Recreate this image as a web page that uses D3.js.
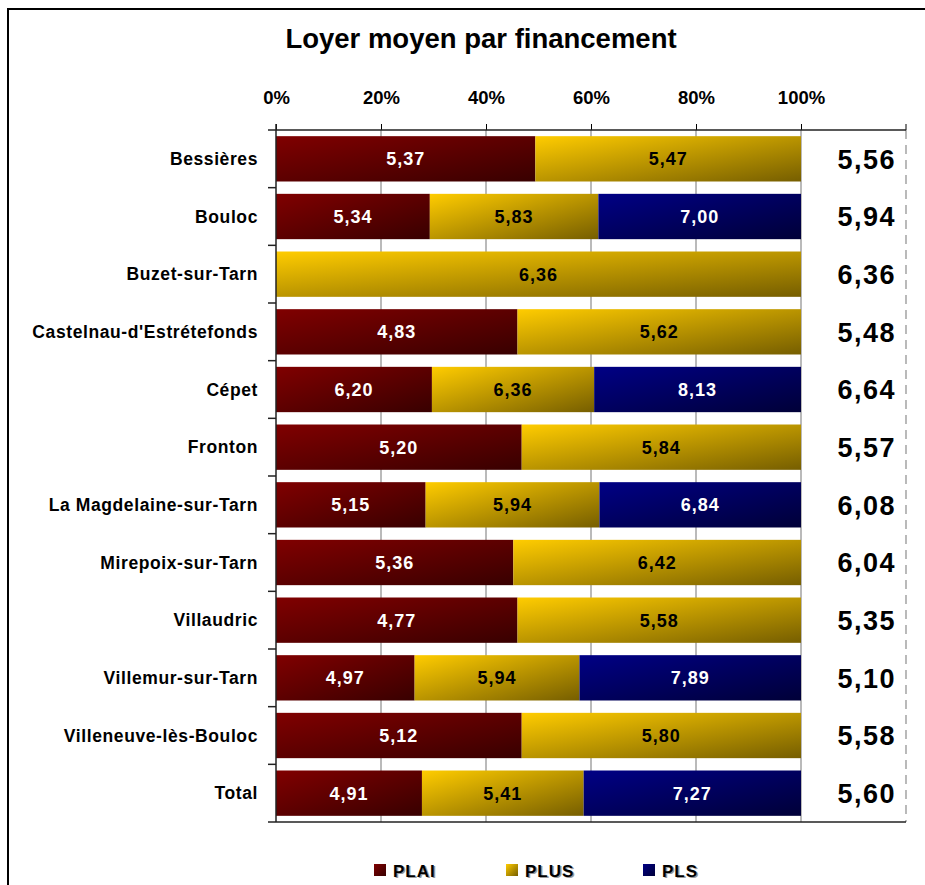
<!DOCTYPE html>
<html>
<head>
<meta charset="utf-8">
<script src="https://cdn.jsdelivr.net/npm/d3@7"></script>
<style>
  html, body { margin: 0; padding: 0; background: #fff; }
  svg { display: block; }
  text { font-family: "Liberation Sans", Arial, sans-serif; font-weight: bold; }
</style>
</head>
<body>
<svg id="chart" width="925" height="885"></svg>
<script>
// Communes (rows, top to bottom)
const communes = [
  "Bessières", "Bouloc", "Buzet-sur-Tarn", "Castelnau-d'Estrétefonds", "Cépet",
  "Fronton", "La Magdelaine-sur-Tarn", "Mirepoix-sur-Tarn", "Villaudric",
  "Villemur-sur-Tarn", "Villeneuve-lès-Bouloc", "Total"
];

// Share of each financing type (bar lengths, sum to 1 per commune)
const partPLAI = [0.494, 0.293, 0, 0.460, 0.297, 0.468, 0.285, 0.452, 0.460, 0.264, 0.468, 0.278];
const partPLUS = [0.506, 0.321, 1, 0.540, 0.309, 0.532, 0.331, 0.548, 0.540, 0.314, 0.532, 0.308];
const partPLS  = [0,     0.386, 0, 0,     0.394, 0,     0.384, 0,     0,     0.422, 0,     0.414];

// Average rent per financing type (€/m²), printed inside the segments
const loyerPLAI = [5.37, 5.34, null, 4.83, 6.20, 5.20, 5.15, 5.36, 4.77, 4.97, 5.12, 4.91];
const loyerPLUS = [5.47, 5.83, 6.36, 5.62, 6.36, 5.84, 5.94, 6.42, 5.58, 5.94, 5.80, 5.41];
const loyerPLS  = [null, 7.00, null, null, 8.13, null, 6.84, null, null, 7.89, null, 7.27];

// Overall average rent per commune (right-hand column)
const loyerMoyen = [5.56, 5.94, 6.36, 5.48, 6.64, 5.57, 6.08, 6.04, 5.35, 5.10, 5.58, 5.60];

const financements = ["PLAI", "PLUS", "PLS"];
const tickValues = [0, 0.2, 0.4, 0.6, 0.8, 1];
const gridValues = [0.2, 0.4, 0.6, 0.8, 1];

// Colours: base (top-left) and shaded (bottom-right) for each financing type
const couleurs = {
  PLAI: ["#800000", "#380000"],
  PLUS: ["#FFCC00", "#765E00"],
  PLS:  ["#000085", "#000038"]
};
const texteCouleur = { PLAI: "#fff", PLUS: "#000", PLS: "#fff" };

// Build the table used by d3.stack
const parts = { PLAI: partPLAI, PLUS: partPLUS, PLS: partPLS };
const loyers = { PLAI: loyerPLAI, PLUS: loyerPLUS, PLS: loyerPLS };
const table = communes.map((c, i) => {
  const row = { commune: c, i };
  financements.forEach(f => { row[f] = parts[f][i]; });
  return row;
});

const fr = d3.formatLocale({ decimal: ",", thousands: " ", grouping: [3], currency: ["", " €"] });
const fmt = fr.format(".2f");
const pct = fr.format(".0%");

const svg = d3.select("#chart");

// Outer frame
svg.append("rect")
  .attr("x", 8).attr("y", 9)
  .attr("width", 1000).attr("height", 1000)
  .attr("fill", "none").attr("stroke", "#000").attr("stroke-width", 2);

// Gradients
const defs = svg.append("defs");
financements.forEach(f => {
  const g = defs.append("linearGradient")
    .attr("id", "grad-" + f)
    .attr("x1", 0).attr("y1", 0).attr("x2", 1).attr("y2", 1);
  g.append("stop").attr("offset", "0%").attr("stop-color", couleurs[f][0]);
  g.append("stop").attr("offset", "100%").attr("stop-color", couleurs[f][1]);
});

// Scales
const yTop = 130, yBottom = 822;
const x = d3.scaleLinear().domain([0, 1.2]).range([276, 906]);
const y = d3.scaleBand().domain(communes).range([yTop, yBottom])
  .paddingInner(0.214).paddingOuter(0.107);

// Title
svg.append("text")
  .attr("x", 481).attr("y", 48)
  .attr("text-anchor", "middle")
  .attr("font-size", 27.5)
  .text("Loyer moyen par financement");

// Vertical gridlines
svg.append("g").selectAll("line")
  .data(gridValues)
  .join("line")
  .attr("x1", d => x(d)).attr("x2", d => x(d))
  .attr("y1", yTop).attr("y2", yBottom)
  .attr("stroke", "#8c8c8c").attr("stroke-width", 1.2);

// Dashed right border of the plot
svg.append("line")
  .attr("x1", x(1.2)).attr("x2", x(1.2))
  .attr("y1", yTop).attr("y2", yBottom)
  .attr("stroke", "#8c8c8c").attr("stroke-width", 1.2)
  .attr("stroke-dasharray", "9,6");

// Stacked bars
const series = d3.stack().keys(financements)(table);
const layers = svg.append("g").selectAll("g")
  .data(series)
  .join("g")
  .attr("fill", s => "url(#grad-" + s.key + ")");

layers.selectAll("rect")
  .data(s => s.filter(d => d[1] - d[0] > 0))
  .join("rect")
  .attr("x", d => x(d[0]))
  .attr("y", d => y(d.data.commune))
  .attr("width", d => x(d[1]) - x(d[0]))
  .attr("height", y.bandwidth());

// Segment labels (average rent)
series.forEach(s => {
  svg.append("g").selectAll("text")
    .data(s.filter(d => d[1] - d[0] > 0))
    .join("text")
    .attr("x", d => (x(d[0]) + x(d[1])) / 2)
    .attr("y", d => y(d.data.commune) + y.bandwidth() / 2)
    .attr("dy", "0.36em")
    .attr("text-anchor", "middle")
    .attr("font-size", 18)
    .attr("letter-spacing", 1)
    .attr("fill", texteCouleur[s.key])
    .text(d => fmt(loyers[s.key][d.data.i]));
});

// Top axis
const xAxis = d3.axisTop(x).tickValues(tickValues).tickSize(6).tickFormat(pct);
const gx = svg.append("g").attr("transform", `translate(0,${yTop})`).call(xAxis);
gx.select(".domain").remove();
gx.selectAll(".tick line").attr("stroke", "#000");
gx.selectAll(".tick text")
  .attr("y", -26)
  .attr("font-size", 18.5)
  .attr("font-family", "\"Liberation Sans\", Arial, sans-serif")
  .attr("font-weight", "bold")
  .attr("fill", "#000");
svg.append("line")
  .attr("x1", x(1.2)).attr("x2", x(1.2))
  .attr("y1", yTop - 6).attr("y2", yTop)
  .attr("stroke", "#000");
// Top and bottom axis lines
[yTop, yBottom].forEach(yy => {
  svg.append("line")
    .attr("x1", 268).attr("x2", x(1.2))
    .attr("y1", yy).attr("y2", yy)
    .attr("stroke", "#222").attr("stroke-width", 1.5);
});

// Left axis: line, boundary ticks and commune names
svg.append("line")
  .attr("x1", x(0)).attr("x2", x(0))
  .attr("y1", yTop - 6).attr("y2", yBottom)
  .attr("stroke", "#222").attr("stroke-width", 1.5);
const step = y.step();
svg.append("g").selectAll("line")
  .data(communes.slice(1))
  .join("line")
  .attr("x1", 268).attr("x2", x(0))
  .attr("y1", d => y(d) - (step - y.bandwidth()) / 2)
  .attr("y2", d => y(d) - (step - y.bandwidth()) / 2)
  .attr("stroke", "#222").attr("stroke-width", 1.5);

svg.append("g").selectAll("text")
  .data(communes)
  .join("text")
  .attr("x", 258)
  .attr("y", d => y(d) + y.bandwidth() / 2)
  .attr("dy", "0.36em")
  .attr("text-anchor", "end")
  .attr("font-size", 17.5)
  .attr("letter-spacing", 0.6)
  .text(d => d);

// Overall average rent column
svg.append("g").selectAll("text")
  .data(loyerMoyen)
  .join("text")
  .attr("x", 896)
  .attr("y", (d, i) => y(communes[i]) + y.bandwidth() / 2)
  .attr("dy", "0.36em")
  .attr("text-anchor", "end")
  .attr("font-size", 27)
  .attr("letter-spacing", 1.5)
  .text(d => fmt(d));

// Legend
const legendX = [374, 506, 643];
const legend = svg.append("g").selectAll("g")
  .data(financements)
  .join("g")
  .attr("transform", (d, i) => `translate(${legendX[i]},864)`);
legend.append("rect")
  .attr("width", 12).attr("height", 12)
  .attr("fill", d => "url(#grad-" + d + ")");
legend.append("text")
  .attr("x", 20.5).attr("y", 14)
  .attr("font-size", 17)
  .attr("letter-spacing", 1)
  .attr("fill", "#999")
  .text(d => d);
legend.append("text")
  .attr("x", 19).attr("y", 12.5)
  .attr("font-size", 17)
  .attr("letter-spacing", 1)
  .attr("fill", "#000")
  .text(d => d);
</script>
</body>
</html>
